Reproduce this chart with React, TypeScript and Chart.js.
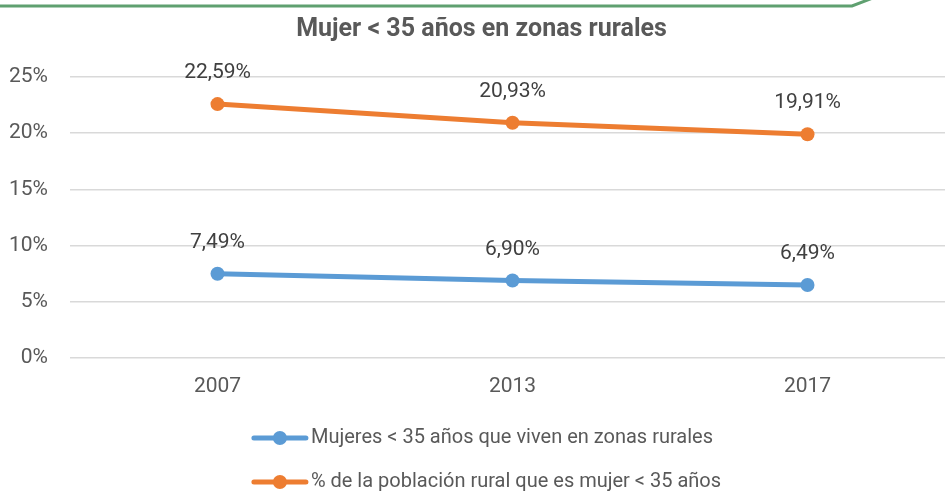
import React, { useEffect, useRef } from "react";
import { Chart, registerables } from "chart.js";

Chart.register(...registerables);

const title = "Mujer < 35 años en zonas rurales";
const categories = ["2007", "2013", "2017"];
const seriesNames = [
  "Mujeres < 35 años que viven en zonas rurales",
  "% de la población rural que es mujer < 35 años",
];
const bluePct = [7.49, 6.9, 6.49];
const orangePct = [22.59, 20.93, 19.91];
const colors = ["#5b9bd5", "#ed7d31"];
const yMin = 0;
const yMax = 25;
const yStep = 5;

const FONT = "Roboto, 'Liberation Sans', sans-serif";

const fmt = (v: number) => v.toFixed(2).replace(".", ",") + "%";

const decorPlugin = {
  id: "decor",
  beforeDraw(chart: any) {
    const ctx = chart.ctx;
    ctx.save();
    ctx.strokeStyle = "#5fa070";
    ctx.lineWidth = 3;
    ctx.beginPath();
    ctx.moveTo(0, 6);
    ctx.lineTo(852, 6);
    ctx.lineTo(878, -4);
    ctx.stroke();
    ctx.restore();
  },
};

const labelPlugin = {
  id: "valueLabels",
  afterDatasetsDraw(chart: any) {
    const ctx = chart.ctx;
    ctx.save();
    ctx.font = `21px ${FONT}`;
    ctx.fillStyle = "#404040";
    ctx.textAlign = "center";
    ctx.textBaseline = "middle";
    chart.data.datasets.forEach((ds: any, i: number) => {
      const meta = chart.getDatasetMeta(i);
      meta.data.forEach((pt: any, j: number) => {
        ctx.fillText(fmt(ds.data[j]), pt.x, pt.y - 31);
      });
    });
    ctx.restore();
  },
};

const legendPlugin = {
  id: "customLegend",
  afterDraw(chart: any) {
    const ctx = chart.ctx;
    ctx.save();
    ctx.font = `20px ${FONT}`;
    const lineW = 52;
    const gap = 5;
    const widths = chart.data.datasets.map((ds: any) => lineW + gap + ctx.measureText(ds.label).width);
    const maxW = Math.max(...widths);
    const x0 = chart.width / 2 - maxW / 2;
    const base = chart.chartArea.bottom;
    const ys = [base + 80, base + 124];
    chart.data.datasets.forEach((ds: any, i: number) => {
      const y = ys[i];
      ctx.strokeStyle = ds.borderColor;
      ctx.lineWidth = 5;
      ctx.lineCap = "round";
      ctx.beginPath();
      ctx.moveTo(x0, y);
      ctx.lineTo(x0 + lineW, y);
      ctx.stroke();
      ctx.fillStyle = ds.borderColor;
      ctx.beginPath();
      ctx.arc(x0 + lineW / 2, y, 7, 0, Math.PI * 2);
      ctx.fill();
      ctx.fillStyle = "#595959";
      ctx.textAlign = "left";
      ctx.textBaseline = "middle";
      ctx.fillText(ds.label, x0 + lineW + gap, y);
    });
    ctx.restore();
  },
};

export default function App() {
  const ref = useRef<HTMLCanvasElement | null>(null);

  useEffect(() => {
    document.body.style.margin = "0";
    document.body.style.overflow = "hidden";
    const canvas = ref.current;
    if (!canvas) return;
    const chart = new Chart(canvas, {
      type: "line",
      data: {
        labels: categories,
        datasets: [
          {
            label: seriesNames[0],
            data: bluePct,
            borderColor: colors[0],
            backgroundColor: colors[0],
            borderWidth: 5,
            pointRadius: 7,
            pointBackgroundColor: colors[0],
            pointBorderColor: colors[0],
            pointBorderWidth: 0,
            tension: 0,
          },
          {
            label: seriesNames[1],
            data: orangePct,
            borderColor: colors[1],
            backgroundColor: colors[1],
            borderWidth: 5,
            pointRadius: 7,
            pointBackgroundColor: colors[1],
            pointBorderColor: colors[1],
            pointBorderWidth: 0,
            tension: 0,
          },
        ],
      },
      options: {
        animation: false,
        responsive: false,
        maintainAspectRatio: false,
        layout: { padding: { left: 8, right: 20, top: 0, bottom: 97 } },
        plugins: {
          legend: { display: false },
          tooltip: { enabled: false },
          title: {
            display: true,
            text: title,
            color: "#595959",
            font: { family: FONT, size: 25, weight: "bold" },
            padding: { top: 15, bottom: 32 },
          },
        },
        scales: {
          x: {
            type: "category",
            offset: true,
            grid: { display: false, drawTicks: false },
            border: { display: false },
            ticks: {
              color: "#595959",
              font: { family: FONT, size: 21 },
              padding: 16,
            },
            afterFit: (axis: any) => {
              axis.height = 40;
            },
          },
          y: {
            min: yMin,
            max: yMax,
            grid: { color: "#d9d9d9", lineWidth: 1.5, drawTicks: false },
            border: { display: false },
            ticks: {
              stepSize: yStep,
              color: "#595959",
              font: { family: FONT, size: 21 },
              padding: 22,
              callback: (v: any) => `${v}%`,
            },
            afterFit: (axis: any) => {
              axis.width = 62;
            },
          },
        },
      },
      plugins: [decorPlugin, labelPlugin, legendPlugin],
    });
    return () => chart.destroy();
  }, []);

  return (
    <div style={{ position: "absolute", left: 0, top: 0, width: 975, height: 495 }}>
      <canvas ref={ref} width={975} height={495} style={{ width: 975, height: 495 }} />
    </div>
  );
}
